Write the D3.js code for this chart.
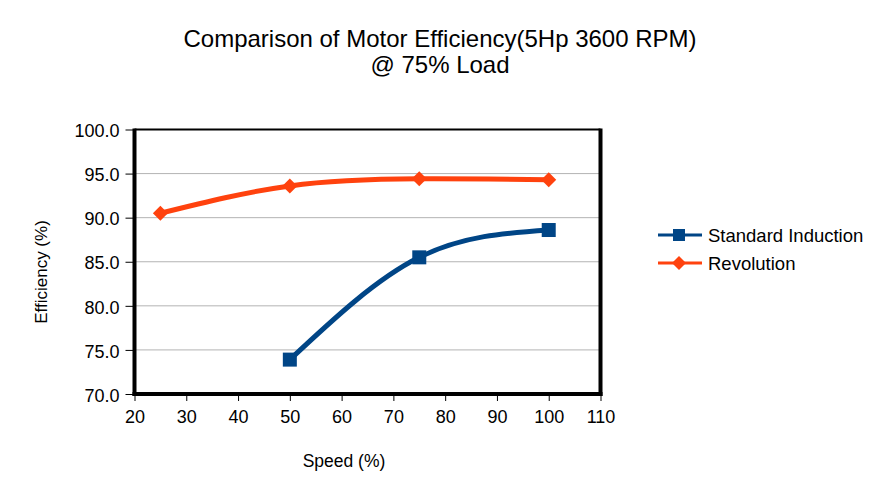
<!DOCTYPE html>
<html><head><meta charset="utf-8">
<script src="https://cdn.jsdelivr.net/npm/d3@7"></script>
<style>body{margin:0;background:#fff}svg{font-family:"Liberation Sans",Arial,sans-serif}</style>
</head><body>
<script>
const seriesNames = ["Standard Induction", "Revolution"];
const standardX = [50, 75, 100];
const standardY = [73.9, 85.5, 88.6];
const revolutionX = [25, 50, 75, 100];
const revolutionY = [90.5, 93.6, 94.4, 94.3];
const xTicks = [20, 30, 40, 50, 60, 70, 80, 90, 100, 110];
const yTicks = [70, 75, 80, 85, 90, 95, 100];
const colors = ["#004586", "#ff420e"];

const W = 883, H = 495;
const svg = d3.select("body").append("svg").attr("width", W).attr("height", H);
const L = 134.5, R = 600.5, T = 129.5, B = 394;
const x = d3.scaleLinear().domain([20, 110]).range([L, R]);
const y = d3.scaleLinear().domain([70, 100]).range([B, T]);

// title
svg.append("text").attr("x", 440).attr("y", 47).attr("text-anchor", "middle").attr("font-size", 24).text("Comparison of Motor Efficiency(5Hp 3600 RPM)");
svg.append("text").attr("x", 440).attr("y", 73).attr("text-anchor", "middle").attr("font-size", 24).text("@ 75% Load");

// grid
svg.append("g").selectAll("line").data(yTicks.slice(1, -1)).join("line")
  .attr("x1", L).attr("x2", R).attr("y1", d => y(d)).attr("y2", d => y(d))
  .attr("stroke", "#b3b3b3").attr("stroke-width", 1);

// axes
const gx = svg.append("g").attr("transform", `translate(0,${B})`)
  .call(d3.axisBottom(x).tickValues(xTicks).tickFormat(d3.format("d")).tickSize(7).tickPadding(8));
const gy = svg.append("g").attr("transform", `translate(${L},0)`)
  .call(d3.axisLeft(y).tickValues(yTicks).tickFormat(d3.format(".1f")).tickSize(9).tickPadding(6));
[gx, gy].forEach(g => {
  g.select(".domain").remove();
  g.selectAll("text").attr("font-size", 18).attr("fill", "#000").attr("font-family", "Liberation Sans, Arial, sans-serif");
  g.selectAll("line").attr("stroke", "#000");
});
gy.selectAll("text").attr("dy", "0.4em");
gx.selectAll("text").attr("dy", "0.75em");

// frame
svg.append("line").attr("x1", L).attr("x2", R).attr("y1", T).attr("y2", T).attr("stroke", "#000").attr("stroke-width", 2);
svg.append("line").attr("x1", L).attr("x2", L).attr("y1", T - 1).attr("y2", B + 2).attr("stroke", "#000").attr("stroke-width", 4);
svg.append("line").attr("x1", R).attr("x2", R).attr("y1", T - 1).attr("y2", B + 2).attr("stroke", "#000").attr("stroke-width", 4);
svg.append("line").attr("x1", L - 2).attr("x2", R + 2).attr("y1", B).attr("y2", B).attr("stroke", "#000").attr("stroke-width", 4);

// axis titles
svg.append("text").attr("transform", `translate(47,272) rotate(-90)`).attr("text-anchor", "middle").attr("font-size", 17).text("Efficiency (%)");
svg.append("text").attr("x", 344).attr("y", 467).attr("text-anchor", "middle").attr("font-size", 17.5).text("Speed (%)");

const line = d3.line().x(d => x(d[0])).y(d => y(d[1])).curve(d3.curveNatural);
const std = standardX.map((v, i) => [v, standardY[i]]);
const rev = revolutionX.map((v, i) => [v, revolutionY[i]]);

svg.append("path").datum(std).attr("d", line).attr("fill", "none").attr("stroke", colors[0]).attr("stroke-width", 5);
svg.append("path").datum(rev).attr("d", line).attr("fill", "none").attr("stroke", colors[1]).attr("stroke-width", 5);

const sq = 14, dm = 7.5;
svg.append("g").selectAll("rect").data(std).join("rect")
  .attr("x", d => x(d[0]) - sq / 2).attr("y", d => y(d[1]) - sq / 2).attr("width", sq).attr("height", sq).attr("fill", colors[0]);
svg.append("g").selectAll("path").data(rev).join("path")
  .attr("d", d => `M${x(d[0])},${y(d[1]) - dm}L${x(d[0]) + dm},${y(d[1])}L${x(d[0])},${y(d[1]) + dm}L${x(d[0]) - dm},${y(d[1])}Z`)
  .attr("fill", colors[1]);

// legend
const lg = svg.append("g");
seriesNames.forEach((n, i) => {
  const ly = 235 + i * 28;
  lg.append("line").attr("x1", 658).attr("x2", 702).attr("y1", ly).attr("y2", ly).attr("stroke", colors[i]).attr("stroke-width", 3);
  if (i === 0) lg.append("rect").attr("x", 673).attr("y", ly - 6).attr("width", 12).attr("height", 12).attr("fill", colors[i]);
  else lg.append("path").attr("d", `M679,${ly - 7}L686,${ly}L679,${ly + 7}L672,${ly}Z`).attr("fill", colors[i]);
  lg.append("text").attr("x", 708).attr("y", ly + 6.5).attr("font-size", 18.5).text(n);
});
</script>
</body></html>
